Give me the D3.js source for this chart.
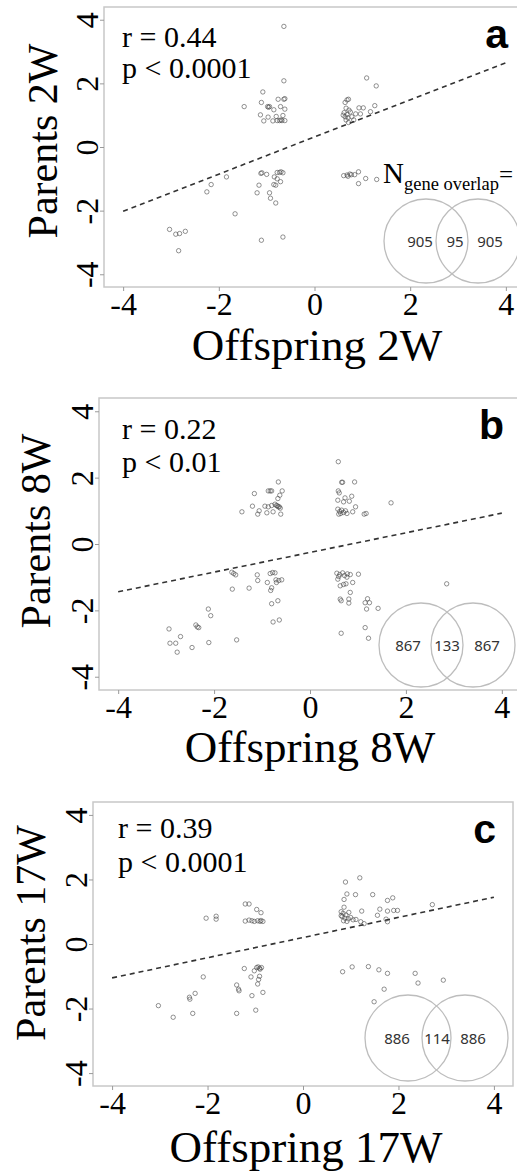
<!DOCTYPE html>
<html><head><meta charset="utf-8">
<script src="https://cdn.jsdelivr.net/npm/d3@7"></script>
<style>html,body{margin:0;padding:0;background:#fff;overflow:hidden}</style>
</head><body>
<script>
// ---------- DATA ----------
const panelLetters = ["a", "b", "c"];
const xTitles = ["Offspring 2W", "Offspring 8W", "Offspring 17W"];
const yTitles = ["Parents 2W", "Parents 8W", "Parents 17W"];
const tickValues = [-4, -2, 0, 2, 4];
const rTexts = ["r = 0.44", "r = 0.22", "r = 0.39"];
const pTexts = ["p < 0.0001", "p < 0.01", "p < 0.0001"];
const vennCounts = [[905, 95, 905], [867, 133, 867], [886, 114, 886]];

// regression line endpoints [x, y]
const fit2W = [[-4, -2.02], [4, 2.65]];
const fit8W = [[-4, -1.44], [4, 0.93]];
const fit17W = [[-4, -1.05], [4, 1.45]];

// points [offspring, parents]
const points2W = [
 [-0.64,3.79],[-0.64,2.08],[-1.08,1.73],[-1.47,1.27],[-1.11,1.40],[-0.98,1.27],[-0.94,1.27],[-0.96,1.25],[-0.76,1.50],[-0.64,1.50],[-0.62,1.52],[-0.85,1.17],[-0.71,1.27],[-0.62,1.19],[-1.13,1.01],[-0.97,0.94],[-1.06,0.82],[-0.87,0.82],[-0.80,0.96],[-0.66,0.99],[-0.78,0.83],[-0.73,0.83],[-0.68,0.83],[-0.62,0.83],[-0.70,0.85],
 [-1.10,-0.81],[-1.12,-0.83],[-1.0,-0.86],[-0.78,-0.80],[-0.73,-0.80],[-0.66,-0.81],[-0.70,-0.78],[-0.84,-0.94],[-0.78,-1.0],[-0.71,-1.09],[-0.85,-1.18],[-0.81,-1.20],[-1.16,-1.20],[-1.20,-1.44],[-0.94,-1.44],[-0.92,-1.61],[-0.81,-1.76],[-1.84,-0.94],[-2.16,-1.18],[-2.25,-1.41],[-1.66,-2.10],[-3.03,-2.59],[-2.90,-2.74],[-2.82,-2.72],[-2.70,-2.65],[-2.84,-3.26],[-1.11,-2.93],[-0.66,-2.83],
 [1.09,2.17],[1.29,1.92],[0.68,1.48],[0.71,1.50],[0.64,1.40],[0.66,1.22],[0.72,1.16],[0.62,1.08],[0.68,1.02],[0.64,0.95],[0.70,0.92],[0.75,1.10],[0.60,1.00],[0.93,1.23],[1.02,1.23],[1.26,1.30],[1.17,1.11],[0.86,1.04],[0.96,1.04],[0.71,0.77],[0.82,0.85],[0.66,0.85],[0.78,0.95],
 [0.61,-0.90],[0.68,-0.88],[0.74,-0.85],[0.77,-0.87],[0.84,-0.87],[0.70,-0.92],[0.92,-0.78],[0.92,-1.15],[1.07,-0.99],[1.30,-1.02]
];
const points8W = [
 [-0.66,1.87],[-1.16,1.52],[-0.87,1.60],[-0.83,1.60],[-0.80,1.60],[-0.58,1.60],[-0.63,1.47],[-0.67,1.37],[-1.20,1.14],[-0.94,1.14],[-0.87,1.12],[-0.80,1.16],[-0.73,1.20],[-0.70,1.16],[-0.66,1.12],[-0.62,1.08],[-0.64,1.12],[-0.68,1.15],[-1.42,0.97],[-1.09,0.90],[-1.06,1.00],[-0.90,0.94],[-0.77,0.97],[-0.61,0.90],
 [-1.63,-0.85],[-1.59,-0.89],[-1.55,-0.93],[-1.10,-0.93],[-1.09,-1.10],[-0.83,-0.89],[-0.78,-0.86],[-0.73,-0.87],[-0.89,-1.16],[-0.71,-1.08],[-0.65,-1.10],[-0.59,-1.08],[-0.80,-1.32],[-0.82,-1.40],[-0.70,-1.16],[-1.62,-1.36],[-1.27,-1.33],[-0.80,-1.80],[-0.67,-1.71],[-0.77,-2.35],[-0.64,-2.29],
 [-2.12,-1.96],[-2.07,-2.16],[-2.94,-2.56],[-2.70,-2.79],[-2.38,-2.44],[-2.35,-2.50],[-2.32,-2.52],[-2.92,-2.99],[-2.80,-2.99],[-2.77,-3.26],[-2.46,-3.12],[-2.11,-2.97],[-1.53,-2.89],
 [0.59,2.48],[0.66,1.86],[0.68,1.86],[0.93,1.87],[0.59,1.60],[0.61,1.54],[0.87,1.44],[0.73,1.39],[0.58,1.32],[0.70,1.27],[0.82,1.29],[0.95,1.12],[0.58,1.05],[0.62,0.98],[0.66,1.02],[0.70,0.95],[0.74,1.00],[0.77,0.92],[0.64,0.92],[0.60,0.90],[0.89,0.97],[1.13,0.90],[1.17,0.92],[1.69,1.24],
 [0.56,-0.88],[0.62,-0.92],[0.68,-0.87],[0.72,-0.95],[0.78,-0.90],[0.84,-0.92],[0.60,-0.98],[1.01,-0.91],[0.58,-1.06],[0.77,-1.00],[0.89,-1.16],[0.63,-1.26],[0.70,-1.22],[0.75,-1.20],[0.84,-1.46],[0.63,-1.66],[0.65,-1.71],[0.81,-1.66],[0.81,-1.78],[1.15,-1.77],[1.20,-1.65],[1.24,-1.77],[1.18,-1.96],[1.42,-1.94],[2.85,-1.20],[0.65,-2.69],[1.15,-2.52],[1.22,-2.84]
];
const points17W = [
 [-1.21,1.24],[-1.13,1.24],[-0.97,1.07],[-0.88,0.97],[-2.03,0.80],[-1.82,0.86],[-1.82,0.77],[-1.21,0.71],[-1.13,0.74],[-1.07,0.72],[-1.02,0.70],[-0.95,0.72],[-0.90,0.70],[-0.84,0.70],[-0.88,0.73],
 [-1.23,-0.76],[-0.97,-0.73],[-0.94,-0.71],[-0.91,-0.75],[-0.87,-0.73],[-0.90,-0.78],[-1.02,-0.83],[-2.09,-1.02],[-1.09,-1.02],[-0.91,-1.00],[-0.93,-1.10],[-1.39,-1.27],[-1.35,-1.40],[-0.95,-1.24],[-2.26,-1.53],[-2.38,-1.65],[-2.37,-1.71],[-1.07,-1.60],[-0.84,-1.50],[-3.03,-1.91],[-0.99,-2.05],[-2.72,-2.27],[-2.31,-2.15],[-1.39,-2.15],[-1.34,-1.45],
 [0.89,1.92],[1.19,2.05],[0.92,1.55],[1.10,1.53],[1.46,1.53],[0.86,1.38],[1.77,1.35],[1.88,1.43],[0.86,1.14],[0.80,1.00],[0.84,0.95],[0.90,0.90],[0.82,0.85],[0.88,0.80],[0.95,0.78],[1.00,0.82],[0.85,0.72],[0.92,0.70],[1.05,0.75],[0.80,0.88],[0.96,0.98],[1.23,1.02],[1.11,0.76],[1.21,0.69],[1.28,0.63],[1.61,1.08],[1.77,1.02],[1.90,1.04],[1.98,1.04],[1.56,0.89],[1.74,0.77],[1.77,0.69],[2.71,1.22],
 [0.83,-0.86],[1.03,-0.71],[1.37,-0.70],[1.59,-0.80],[1.77,-0.91],[2.35,-0.91],[2.41,-1.21],[2.94,-1.12],[1.70,-1.40],[1.49,-1.79]
];
const allPoints = [points2W, points8W, points17W];
const allFits = [fit2W, fit8W, fit17W];

// ---------- LAYOUT (pixels) ----------
const layouts = [
 {left:104, top:7, right:525, bottom:287, rx:122, rY:47, pY:78, yTitleX:57, yTitleY:141, xTitleX:317, xTitleY:360,
  venn:{c1:426, c2:478, cy:241, r:42, lx:[420,455,490]}, showN:true},
 {left:99, top:398, right:521, bottom:690, rx:122, rY:439, pY:472, yTitleX:50, yTitleY:531, xTitleX:310, xTitleY:762,
  venn:{c1:421, c2:473, cy:645, r:42, lx:[408,447,487]}, showN:false},
 {left:93, top:802, right:513, bottom:1086, rx:118, rY:838, pY:872, yTitleX:45, yTitleY:933, xTitleX:306, xTitleY:1162,
  venn:{c1:408, c2:465, cy:1038, r:43, lx:[397,437,473]}, showN:false}
];

const W = 517, H = 1171;
const serif = "'Liberation Serif','Times New Roman',serif";
const sans = "'Liberation Sans',Arial,sans-serif";
const svg = d3.select("body").append("svg").attr("width", W).attr("height", H).style("display","block");

layouts.forEach((L, i) => {
  const g = svg.append("g");
  const x = d3.scaleLinear().domain([-4.4, 4.4]).range([L.left, L.right]);
  const y = d3.scaleLinear().domain([-4.4, 4.4]).range([L.bottom, L.top]);

  g.append("rect").attr("x", L.left).attr("y", L.top)
    .attr("width", L.right - L.left).attr("height", L.bottom - L.top)
    .attr("fill", "none").attr("stroke", "#c8c8c8").attr("stroke-width", 1.5);

  const xa = g.append("g").attr("transform", `translate(0,${L.bottom})`)
    .call(d3.axisBottom(x).tickValues(tickValues).tickSize(4).tickFormat(d => String(d)));
  xa.select(".domain").remove();
  xa.selectAll("line").attr("stroke", "#999");
  xa.selectAll("text").attr("dy", null).attr("y", 28)
    .style("font-family", serif).style("font-size", "32px").attr("fill", "#000");

  const ya = g.append("g").attr("transform", `translate(${L.left},0)`)
    .call(d3.axisLeft(y).tickValues(tickValues).tickSize(4).tickFormat(d => String(d)));
  ya.select(".domain").remove();
  ya.selectAll("line").attr("stroke", "#999");
  ya.selectAll("text").attr("x", null).attr("dy", null).attr("text-anchor", "middle")
    .attr("transform", "translate(-6,0) rotate(-90)")
    .style("font-family", serif).style("font-size", "32px").attr("fill", "#000");

  // points
  g.append("g").selectAll("circle").data(allPoints[i]).join("circle")
    .attr("cx", d => x(d[0])).attr("cy", d => y(d[1])).attr("r", 2.2)
    .attr("fill", "none").attr("stroke", "#444").attr("stroke-opacity", 0.65).attr("stroke-width", 0.9);

  // regression line
  g.append("path").datum(allFits[i])
    .attr("d", d3.line().x(d => x(d[0])).y(d => y(d[1])))
    .attr("fill", "none").attr("stroke", "#333").attr("stroke-width", 1.6).attr("stroke-dasharray", "5,4");

  // stats
  g.append("text").attr("x", L.rx).attr("y", L.rY).text(rTexts[i])
    .style("font-family", serif).style("font-size", "30px");
  g.append("text").attr("x", L.rx).attr("y", L.pY).text(pTexts[i])
    .style("font-family", serif).style("font-size", "30px");

  // panel letter
  g.append("text").attr("x", L.right - 17).attr("y", L.top + 41).attr("text-anchor", "end")
    .text(panelLetters[i]).style("font-family", sans).style("font-weight", "bold").style("font-size", "41px");

  // titles
  g.append("text").attr("x", L.xTitleX).attr("y", L.xTitleY).attr("text-anchor", "middle")
    .text(xTitles[i]).style("font-family", serif).style("font-size", "45px");
  g.append("text").attr("text-anchor", "middle")
    .attr("transform", `translate(${L.yTitleX},${L.yTitleY}) rotate(-90)`)
    .text(yTitles[i]).style("font-family", serif).style("font-size", "42px");

  // venn
  const V = L.venn;
  [V.c1, V.c2].forEach(cx => {
    g.append("circle").attr("cx", cx).attr("cy", V.cy).attr("r", V.r)
      .attr("fill", "none").attr("stroke", "#bdbdbd").attr("stroke-width", 1.3);
  });
  vennCounts[i].forEach((c, k) => {
    g.append("text").attr("x", V.lx[k]).attr("y", V.cy + 6).attr("text-anchor", "middle")
      .text(c).style("font-family", "'Noto Sans','Open Sans',sans-serif").style("font-size", "15px").attr("fill", "#333");
  });

  if (L.showN) {
    const t = g.append("text").attr("x", 383).attr("y", 183).style("font-family", serif).attr("fill", "#000");
    t.append("tspan").text("N").style("font-size", "29px");
    t.append("tspan").attr("dy", 7).text("gene overlap").style("font-size", "18.5px");
    t.append("tspan").attr("dy", -7).text("=").style("font-size", "25px");
  }
});
</script>
</body></html>
